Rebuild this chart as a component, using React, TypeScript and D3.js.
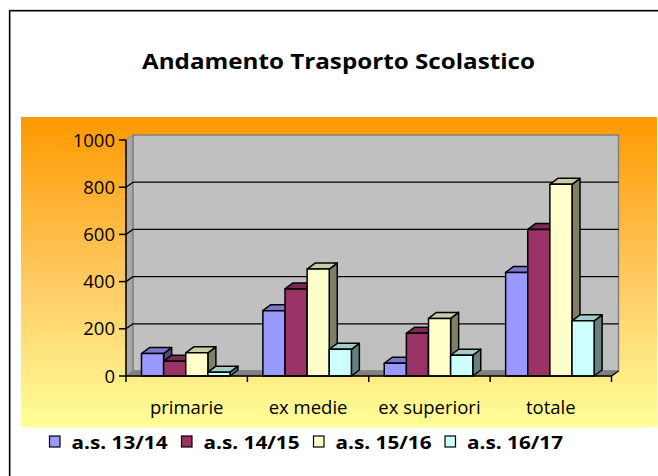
import * as d3 from "d3";

const categories = ["primarie", "ex medie", "ex superiori", "totale"];
const seriesNames = ["a.s. 13/14", "a.s. 14/15", "a.s. 15/16", "a.s. 16/17"];
const as1314 = [95, 277, 54, 439];
const as1415 = [63, 369, 181, 621];
const as1516 = [98, 453, 244, 812];
const as1617 = [16, 113, 88, 234];
const yTicks = [0, 200, 400, 600, 800, 1000];

const seriesValues = [as1314, as1415, as1516, as1617];
const fronts = ["#9999FF", "#993366", "#FFFFCC", "#CCFFFF"];

const width = 658,
  height = 476;
const font = "'Open Sans', sans-serif";

// 3D offsets
const wdx = 7,
  wdy = 5; // wall depth
const bdx = 8,
  bdy = 6; // bar depth

function shade(c: string, k: number) {
  const col = d3.rgb(c);
  return d3.rgb(col.r * k, col.g * k, col.b * k).formatHex();
}

export default function App() {
  const x0 = 126,
    x1 = 611.5;
  const y = d3.scaleLinear().domain([0, 1000]).range([376, 140]);
  const xCat = d3.scaleBand().domain(categories).range([x0, x1]);
  const xSer = d3
    .scaleBand()
    .domain(seriesNames)
    .range([15.5, 104]);

  const base = y(0);
  const top = y(1000);
  const pts = (p: number[][]) => p.map((q) => q.join(",")).join(" ");

  return (
    <svg
      width={width}
      height={height}
      style={{ position: "absolute", left: 0, top: 0, background: "#fff" }}
      fontFamily={font}
    >
      <defs>
        <linearGradient id="bg" x1="0" y1="0" x2="0" y2="1">
          <stop offset="0" stopColor="#FF9900" />
          <stop offset="0.55" stopColor="#FFCC66" />
          <stop offset="1" stopColor="#FFFF99" />
        </linearGradient>
      </defs>

      {/* outer frame */}
      <rect x={10.5} y={11.5} width={700} height={500} fill="none" stroke="#999" strokeWidth={1} />
      <rect x={9.5} y={10.5} width={700} height={500} fill="none" stroke="#000" strokeWidth={1.3} />

      <text
        x={338.5}
        y={69}
        textAnchor="middle"
        fontWeight="bold"
        fontSize={21.5}
        textLength={393}
        lengthAdjust="spacingAndGlyphs"
        fill="#000"
      >
        Andamento Trasporto Scolastico
      </text>

      {/* plot background */}
      <rect x={21} y={117} width={636} height={310.5} fill="url(#bg)" />

      {/* left side wall */}
      <polygon
        points={pts([
          [x0, base],
          [x0, top],
          [x0 + wdx, top - wdy],
          [x0 + wdx, base - wdy],
        ])}
        fill="#A8A8A8"
        stroke="#808080"
        strokeWidth={1}
      />
      {/* back wall */}
      <rect
        x={x0 + wdx}
        y={top - wdy}
        width={x1 - x0}
        height={base - top}
        fill="#C0C0C0"
        stroke="#808080"
        strokeWidth={1.5}
      />
      {/* floor */}
      <polygon
        points={pts([
          [x0, base],
          [x1, base],
          [x1 + wdx, base - wdy],
          [x0 + wdx, base - wdy],
        ])}
        fill="#808080"
        stroke="#808080"
        strokeWidth={1}
      />

      {/* gridlines */}
      {yTicks
        .filter((t) => t > 0 && t < 1000)
        .map((t) => (
          <g key={t}>
            <line
              x1={x0}
              y1={y(t)}
              x2={x0 + wdx}
              y2={y(t) - wdy}
              stroke="#000"
              strokeWidth={1.3}
            />
            <line
              x1={x0 + wdx}
              y1={y(t) - wdy}
              x2={x1 + wdx}
              y2={y(t) - wdy}
              stroke="#000"
              strokeWidth={1.3}
            />
          </g>
        ))}

      {/* bars */}
      {categories.map((c, ci) =>
        seriesNames.map((s, si) => {
          const v = seriesValues[si][ci];
          const bx = (xCat(c) as number) + (xSer(s) as number);
          const w = xSer.bandwidth();
          const yt = y(v);
          const f = fronts[si];
          return (
            <g key={c + s} stroke="#000" strokeWidth={1.5} strokeLinejoin="round">
              <polygon
                points={pts([
                  [bx + w, yt],
                  [bx + w + bdx, yt - bdy],
                  [bx + w + bdx, base - bdy],
                  [bx + w, base],
                ])}
                fill={shade(f, 0.5)}
              />
              <polygon
                points={pts([
                  [bx, yt],
                  [bx + bdx, yt - bdy],
                  [bx + w + bdx, yt - bdy],
                  [bx + w, yt],
                ])}
                fill={shade(f, 0.8)}
              />
              <rect x={bx} y={yt} width={w} height={base - yt} fill={f} />
            </g>
          );
        })
      )}

      {/* axes */}
      <g stroke="#000" strokeWidth={1.5}>
        <line x1={x0} y1={base} x2={x0} y2={top} />
        <line x1={x0} y1={base} x2={x1} y2={base} />
        <line x1={x1} y1={base} x2={x1 + wdx} y2={base - wdy} />
        {yTicks.map((t) => (
          <line key={t} x1={x0 - 7} y1={y(t)} x2={x0} y2={y(t)} />
        ))}
        {categories.map((c) => (
          <line
            key={c}
            x1={xCat(c) as number}
            y1={base}
            x2={xCat(c) as number}
            y2={base + 6}
          />
        ))}
        <line x1={x1} y1={base} x2={x1} y2={base + 6} />
      </g>
      {yTicks.map((t) => (
        <text
          key={t}
          x={x0 - 11}
          y={y(t)}
          dy="0.36em"
          textAnchor="end"
          fontSize={18.5}
          fill="#000"
        >
          {t}
        </text>
      ))}
      {categories.map((c) => (
        <text
          key={c}
          x={(xCat(c) as number) + xCat.bandwidth() / 2}
          y={414}
          textAnchor="middle"
          fontSize={18.5}
          fill="#000"
        >
          {c}
        </text>
      ))}

      {/* legend */}
      {seriesNames.map((s, i) => {
        const lx = [49.5, 181.5, 313.5, 445][i];
        return (
          <g key={s}>
            <rect
              x={lx}
              y={436}
              width={10.5}
              height={11}
              fill={fronts[i]}
              stroke="#000"
              strokeWidth={1.2}
            />
            <text
              x={lx + 22}
              y={448.5}
              fontSize={18.5}
              fontWeight="bold"
              textLength={96}
              lengthAdjust="spacingAndGlyphs"
              fill="#000"
            >
              {s}
            </text>
          </g>
        );
      })}
    </svg>
  );
}
